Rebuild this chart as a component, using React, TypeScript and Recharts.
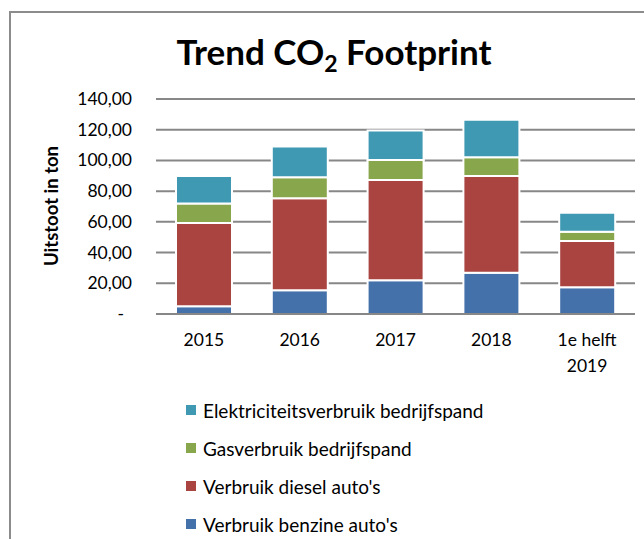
import React from 'react';
import { BarChart, Bar, XAxis, YAxis, CartesianGrid, Legend } from 'recharts';

const categories = ['2015', '2016', '2017', '2018', '1e helft\n2019'];
const benzine = [5.1, 15.4, 21.9, 26.9, 17.5];
const diesel = [54.2, 59.9, 65.4, 63.0, 30.1];
const gas = [12.7, 13.7, 13.0, 12.2, 5.9];
const elektriciteit = [17.9, 20.0, 19.2, 24.4, 12.4];
const yTicks = [0, 20, 40, 60, 80, 100, 120, 140];
const legendOrder = ['elektriciteit', 'gas', 'diesel', 'benzine'];

const seriesNames = {
  benzine: "Verbruik benzine auto's",
  diesel: "Verbruik diesel auto's",
  gas: 'Gasverbruik bedrijfspand',
  elektriciteit: 'Elektriciteitsverbruik bedrijfspand',
};
const colors = {
  benzine: '#4471AA',
  diesel: '#AA4441',
  gas: '#88A64B',
  elektriciteit: '#3F99B3',
};

const data = categories.map((c, i) => ({
  name: c,
  benzine: benzine[i],
  diesel: diesel[i],
  gas: gas[i],
  elektriciteit: elektriciteit[i],
}));

const FONT = 'Lato, "Open Sans", sans-serif';

const fmt = (v: number) => (v === 0 ? '-' : v.toFixed(2).replace('.', ','));

const YTick = (props: any) => {
  const { x, y, payload } = props;
  const v = payload.value;
  return (
    <text
      x={v === 0 ? x - 8 : x}
      y={y}
      dy={6}
      textAnchor="end"
      fill="#000"
      fontSize={17.5}
      fontFamily={FONT}
    >
      {fmt(v)}
    </text>
  );
};

const XTick = (props: any) => {
  const { x, y, payload } = props;
  const lines = String(payload.value).split('\n');
  return (
    <text x={x} y={y} textAnchor="middle" fill="#000" fontSize={17.5} fontFamily={FONT}>
      {lines.map((l, i) => (
        <tspan key={i} x={x} dy={i === 0 ? 24 : 26}>
          {l}
        </tspan>
      ))}
    </text>
  );
};

const LegendContent = (props: any) => {
  const payload = props.payload || [];
  const items = legendOrder
    .map((k) => payload.find((p: any) => p.dataKey === k))
    .filter(Boolean);
  return (
    <div style={{ fontFamily: FONT, fontSize: 19, color: '#000' }}>
      {items.map((it: any) => (
        <div key={it.value} style={{ display: 'flex', alignItems: 'center', height: 38 }}>
          <span
            style={{
              display: 'inline-block',
              width: 10,
              height: 10,
              background: it.color,
              marginRight: 7,
            }}
          />
          <span>{it.value}</span>
        </div>
      ))}
    </div>
  );
};

export default function App() {
  return (
    <div
      style={{
        position: 'fixed',
        left: 0,
        top: 0,
        width: 644,
        height: 539,
        background: '#fff',
        overflow: 'hidden',
      }}
    >
      <div
        style={{
          position: 'absolute',
          left: 9,
          top: 11,
          width: 700,
          height: 600,
          border: '2px solid #8c8c8c',
        }}
      />
      <div
        style={{
          position: 'absolute',
          left: 0,
          top: 30,
          width: 668,
          textAlign: 'center',
          fontFamily: FONT,
          fontWeight: 700,
          fontSize: 35,
          color: '#000',
          lineHeight: '42px',
        }}
      >
        Trend CO<sub style={{ fontSize: 23, verticalAlign: -7, lineHeight: 0 }}>2</sub> Footprint
      </div>
      <div
        style={{
          position: 'absolute',
          left: 51,
          top: 206,
          transform: 'translate(-50%, -50%) rotate(-90deg)',
          fontFamily: FONT,
          fontWeight: 700,
          fontSize: 18.5,
          color: '#000',
          whiteSpace: 'nowrap',
        }}
      >
        Uitstoot in ton
      </div>
      <div style={{ position: 'absolute', left: 0, top: 0 }}>
        <BarChart
          width={644}
          height={539}
          data={data}
          margin={{ top: 99, right: 9, bottom: 165, left: 0 }}
        >
          <CartesianGrid vertical={false} stroke="#878787" strokeWidth={2} />
          <XAxis
            dataKey="name"
            tick={<XTick />}
            tickLine={false}
            axisLine={{ stroke: '#878787', strokeWidth: 2 }}
            height={60}
            interval={0}
          />
          <YAxis
            width={156}
            domain={[0, 140]}
            ticks={yTicks}
            tick={<YTick />}
            tickLine={false}
            axisLine={false}
            tickMargin={18}
            interval={0}
          />
          <Legend
            layout="vertical"
            align="center"
            verticalAlign="middle"
            content={<LegendContent />}
            wrapperStyle={{ position: 'absolute', left: 186, top: 391, width: 420 }}
          />
          <Bar dataKey="benzine" name={seriesNames.benzine} stackId="a" fill={colors.benzine} stroke="#fff" strokeWidth={2} barSize={56} isAnimationActive={false} />
          <Bar dataKey="diesel" name={seriesNames.diesel} stackId="a" fill={colors.diesel} stroke="#fff" strokeWidth={2} barSize={56} isAnimationActive={false} />
          <Bar dataKey="gas" name={seriesNames.gas} stackId="a" fill={colors.gas} stroke="#fff" strokeWidth={2} barSize={56} isAnimationActive={false} />
          <Bar dataKey="elektriciteit" name={seriesNames.elektriciteit} stackId="a" fill={colors.elektriciteit} stroke="#fff" strokeWidth={2} barSize={56} isAnimationActive={false} />
        </BarChart>
      </div>
    </div>
  );
}
